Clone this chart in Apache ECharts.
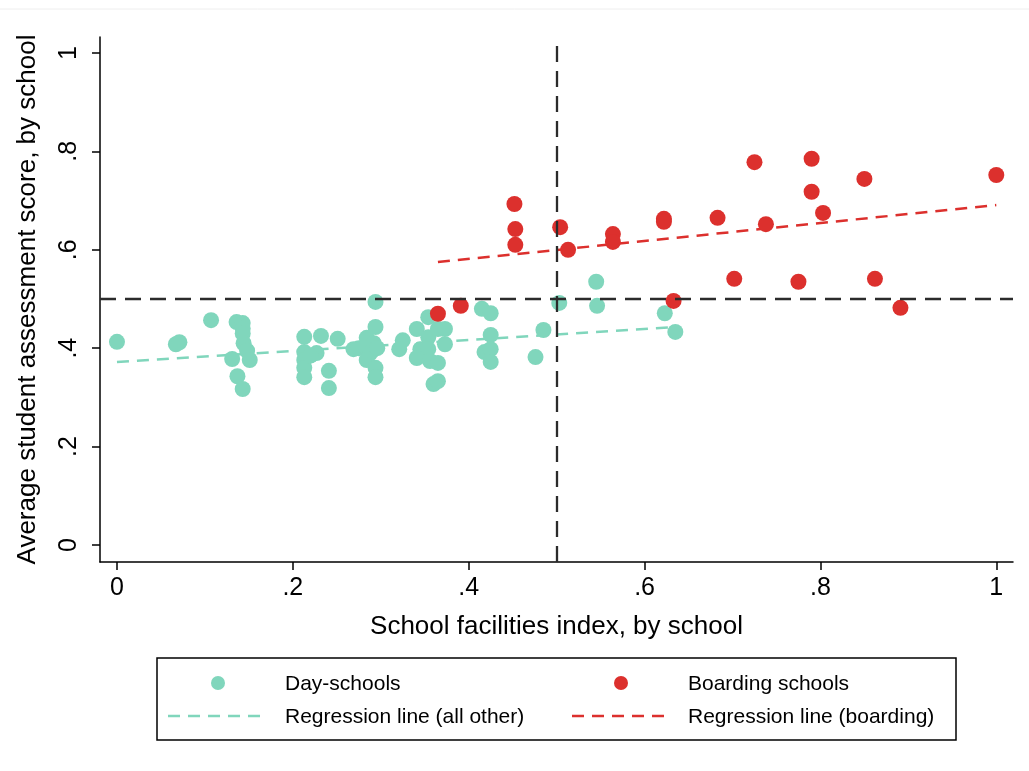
<!DOCTYPE html>
<html>
<head>
<meta charset="utf-8">
<script src="https://cdn.jsdelivr.net/npm/echarts@6/dist/echarts.min.js"></script>
<style>html,body{margin:0;padding:0;background:#fff;}#chart{width:1029px;height:771px;}</style>
</head>
<body>
<div id="chart"></div>
<script>
// ---- Data ----
var daySchools = [
  [0.000,0.413],[0.067,0.408],[0.071,0.412],[0.107,0.457],[0.136,0.453],[0.143,0.451],
  [0.143,0.440],[0.143,0.430],[0.144,0.410],[0.148,0.395],[0.131,0.378],[0.151,0.376],
  [0.137,0.343],[0.143,0.317],[0.213,0.423],[0.213,0.392],[0.213,0.376],[0.213,0.360],
  [0.213,0.341],[0.227,0.390],[0.220,0.385],[0.232,0.425],[0.251,0.419],[0.241,0.354],
  [0.241,0.319],[0.269,0.398],[0.275,0.400],[0.284,0.421],[0.294,0.494],[0.294,0.443],
  [0.292,0.410],[0.284,0.400],[0.288,0.390],[0.284,0.376],[0.294,0.360],[0.294,0.341],
  [0.290,0.395],[0.296,0.400],[0.325,0.416],[0.321,0.398],[0.341,0.439],[0.354,0.463],
  [0.354,0.422],[0.365,0.439],[0.373,0.439],[0.373,0.408],[0.345,0.398],[0.354,0.398],
  [0.341,0.380],[0.356,0.374],[0.365,0.370],[0.360,0.327],[0.365,0.333],[0.415,0.480],
  [0.425,0.471],[0.425,0.427],[0.418,0.392],[0.425,0.398],[0.425,0.372],[0.476,0.382],
  [0.485,0.437],[0.503,0.492],[0.545,0.535],[0.546,0.486],[0.623,0.471],[0.635,0.433]
];
var boardingSchools = [
  [0.365,0.470],[0.391,0.486],[0.452,0.693],[0.453,0.642],[0.453,0.610],[0.504,0.646],
  [0.513,0.600],[0.564,0.632],[0.564,0.616],[0.622,0.663],[0.622,0.657],[0.633,0.496],
  [0.683,0.665],[0.702,0.541],[0.725,0.778],[0.738,0.652],[0.775,0.535],[0.790,0.785],
  [0.790,0.718],[0.803,0.675],[0.850,0.744],[0.862,0.541],[0.891,0.482],[1.000,0.752]
];
var regAllOther = [[0.000,0.372],[0.635,0.443]];
var regBoarding = [[0.365,0.575],[1.000,0.691]];
var xTicks = [0,0.2,0.4,0.6,0.8,1];
var yTicks = [0,0.2,0.4,0.6,0.8,1];
var refX = 0.5, refY = 0.5;

var TEAL = '#80d6bc', RED = '#dc302d';
var FONT = '"Liberation Sans", Arial, Helvetica, sans-serif';
function fmt(v){ if (v === 0) return '0'; if (v === 1) return '1'; return String(Math.round(v*10)/10).replace(/^0/, ''); }

var chart = echarts.init(document.getElementById('chart'), null, {renderer:'canvas'});
var option = {
  backgroundColor:'#fff',
  animation:false,
  textStyle:{fontFamily:FONT},
  grid:{left:100, top:37, right:16, bottom:209, containLabel:false},
  xAxis:{
    type:'value', min:-0.0193, max:1.019,
    name:'School facilities index, by school', nameLocation:'middle', nameGap:52,
    nameTextStyle:{fontSize:26, color:'#000', fontFamily:FONT},
    axisLine:{show:true, onZero:false, lineStyle:{color:'#000', width:1.5}},
    axisTick:{show:true, length:8, lineStyle:{color:'#000', width:1.5}, customValues:xTicks},
    axisLabel:{show:true, fontSize:25, color:'#000', margin:14, fontFamily:FONT, customValues:xTicks, formatter:fmt},
    splitLine:{show:false}
  },
  yAxis:{
    type:'value', min:-0.0346, max:1.0325,
    name:'Average student assessment score, by school', nameLocation:'middle', nameGap:59, nameRotate:90,
    nameTextStyle:{fontSize:26, color:'#000', fontFamily:FONT},
    axisLine:{show:true, onZero:false, lineStyle:{color:'#000', width:1.5}},
    axisTick:{show:true, length:8, lineStyle:{color:'#000', width:1.5}, customValues:yTicks},
    axisLabel:{show:true, fontSize:25, color:'#000', margin:18, rotate:90, fontFamily:FONT, customValues:yTicks, formatter:fmt},
    splitLine:{show:false}
  },
  series:[
    {
      name:'ref', type:'line', data:[], z:1, silent:true,
      markLine:{
        silent:true, symbol:['none','none'], label:{show:false},
        lineStyle:{color:'#2b2b2b', width:2.3, type:[16,9], opacity:1},
        data:[{xAxis:refX},{yAxis:refY}]
      }
    },
    {
      name:'Regression line (all other)', type:'line', data:regAllOther, z:2, symbol:'none', silent:true,
      lineStyle:{color:TEAL, width:2.5, type:[12,8]}
    },
    {
      name:'Regression line (boarding)', type:'line', data:regBoarding, z:2, symbol:'none', silent:true,
      lineStyle:{color:RED, width:2.5, type:[12,8]}
    },
    {
      name:'Day-schools', type:'scatter', data:daySchools, z:3, symbol:'circle', symbolSize:16,
      itemStyle:{color:TEAL, opacity:1}
    },
    {
      name:'Boarding schools', type:'scatter', data:boardingSchools, z:4, symbol:'circle', symbolSize:16,
      itemStyle:{color:RED, opacity:1}
    }
  ],
  graphic:[
    {type:'line', shape:{x1:0,y1:9,x2:1029,y2:9}, style:{stroke:'#eeeeee', lineWidth:1}},
    {type:'rect', shape:{x:157,y:658,width:799,height:82}, style:{fill:'#fff', stroke:'#000', lineWidth:1.5}},
    {type:'circle', shape:{cx:218,cy:683,r:7}, style:{fill:TEAL}},
    {type:'circle', shape:{cx:621,cy:683,r:7}, style:{fill:RED}},
    {type:'line', shape:{x1:168,y1:716,x2:268,y2:716}, style:{stroke:TEAL, lineWidth:2.5, lineDash:[12,8]}},
    {type:'line', shape:{x1:572,y1:716,x2:672,y2:716}, style:{stroke:RED, lineWidth:2.5, lineDash:[12,8]}},
    {type:'text', x:285, y:684, style:{text:'Day-schools', fontSize:21, fontFamily:FONT, fill:'#000', verticalAlign:'middle'}},
    {type:'text', x:688, y:684, style:{text:'Boarding schools', fontSize:21, fontFamily:FONT, fill:'#000', verticalAlign:'middle'}},
    {type:'text', x:285, y:717, style:{text:'Regression line (all other)', fontSize:21, fontFamily:FONT, fill:'#000', verticalAlign:'middle'}},
    {type:'text', x:688, y:717, style:{text:'Regression line (boarding)', fontSize:21, fontFamily:FONT, fill:'#000', verticalAlign:'middle'}}
  ]
};
chart.setOption(option);
</script>
</body>
</html>
